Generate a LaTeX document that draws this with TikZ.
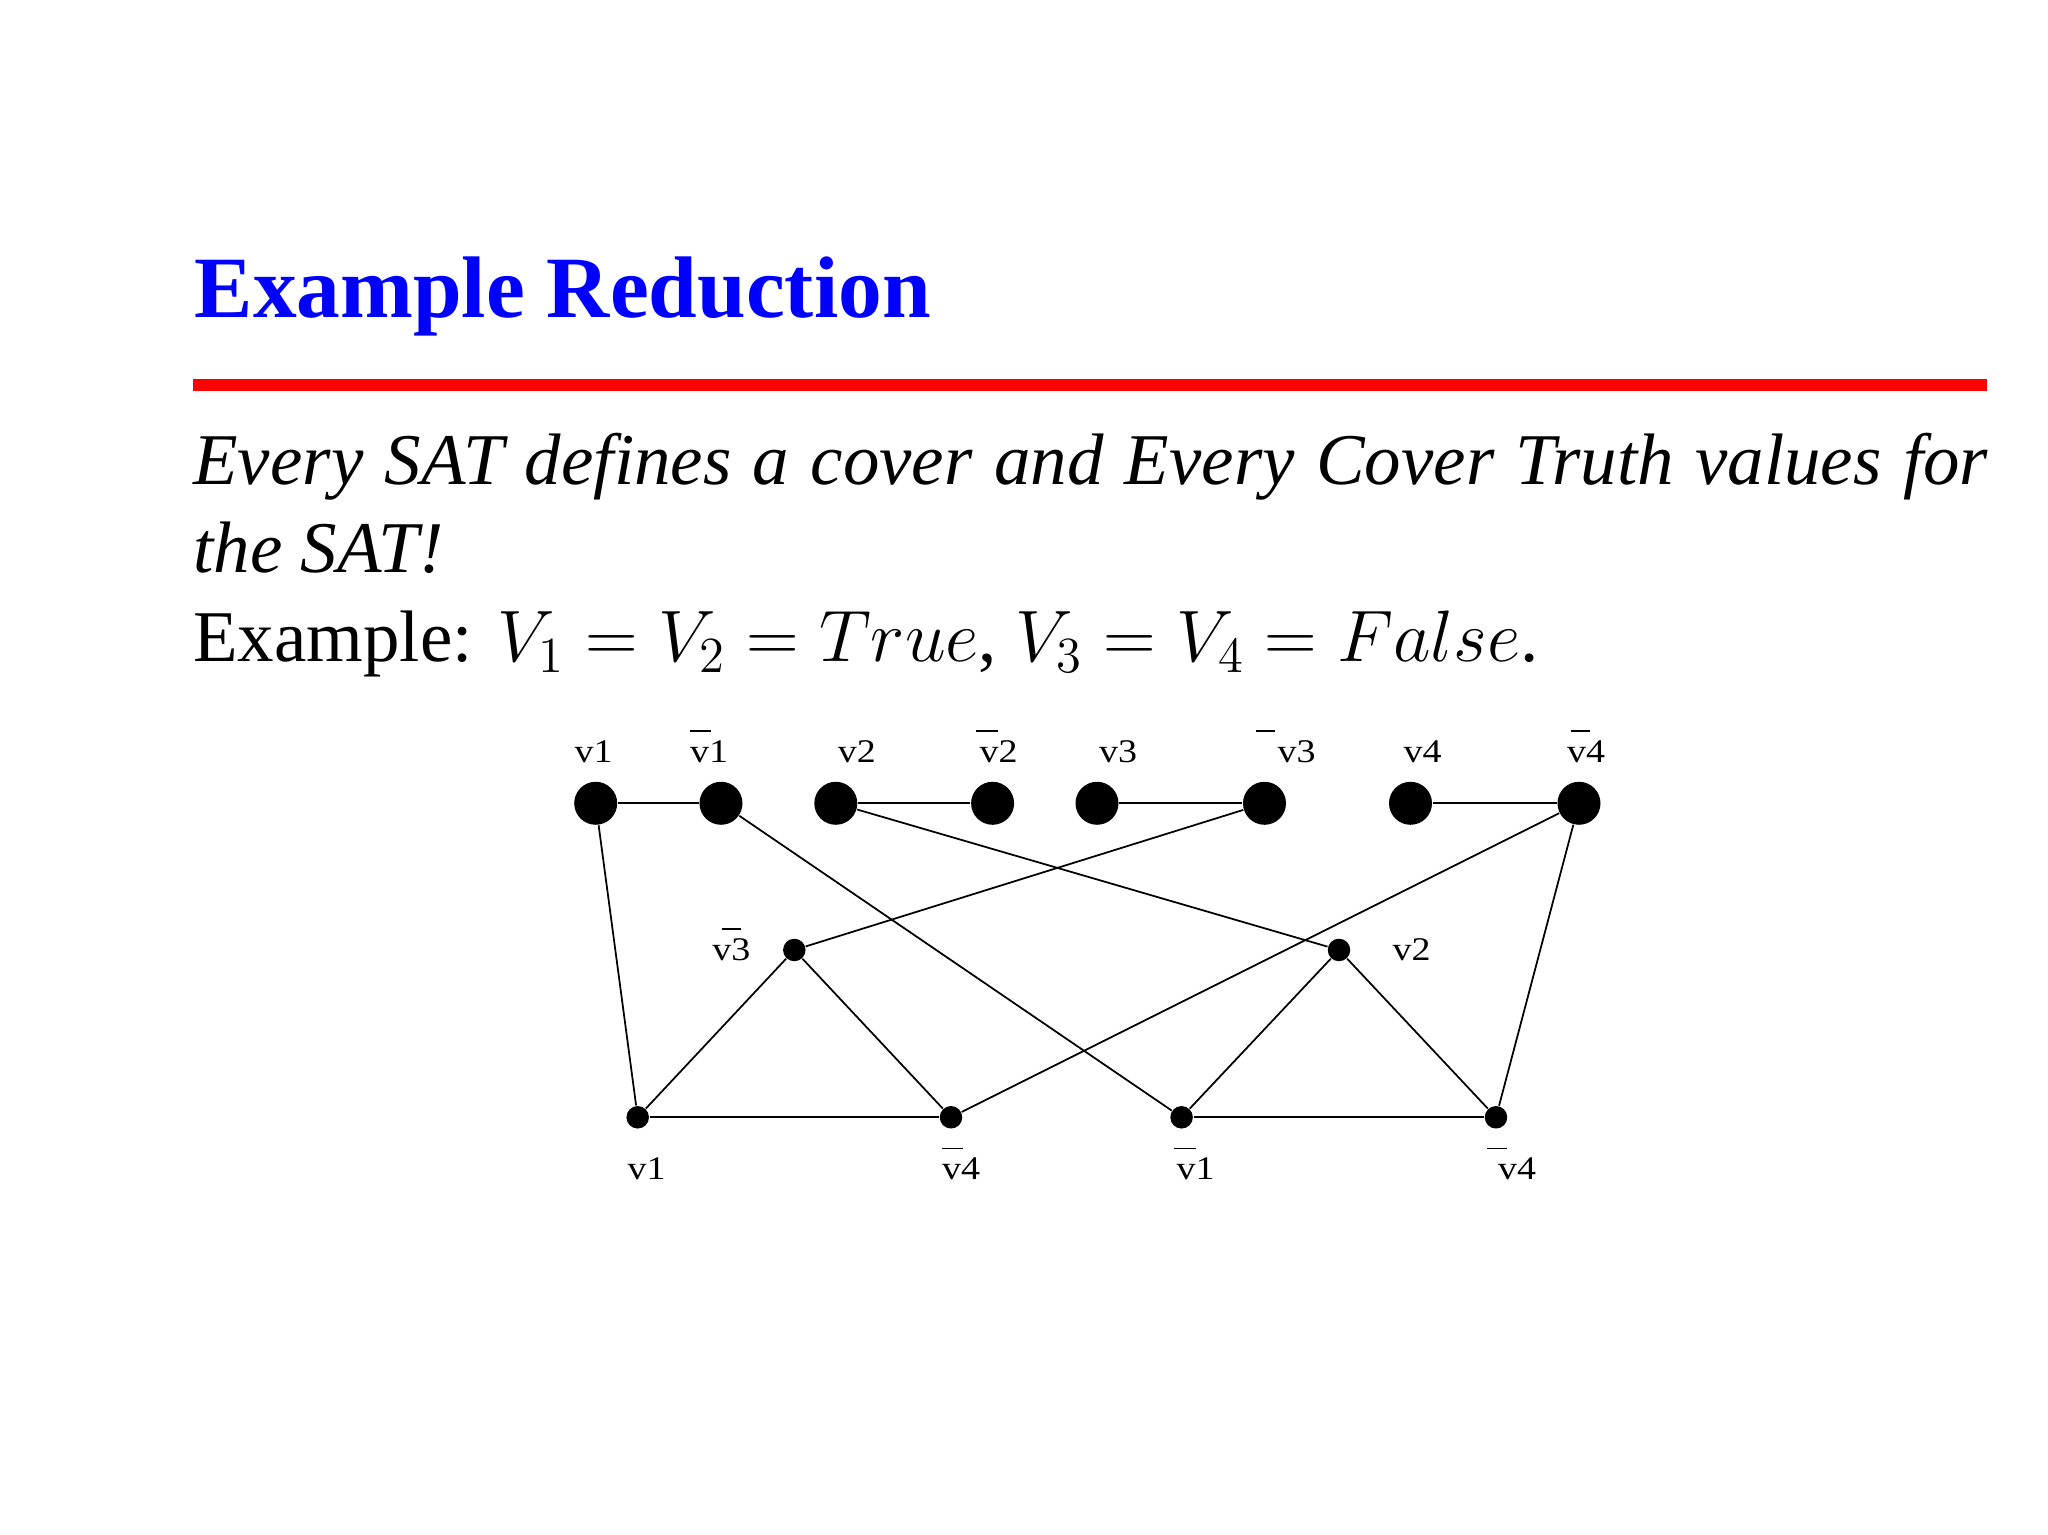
\documentclass[tikz,border=0pt]{standalone}
\usepackage[no-math]{fontspec}
\setmainfont{Liberation Serif}
\usepackage{xcolor}
\usepackage{amsmath}
\usepackage{graphicx}
\usepackage{tikz}
\usetikzlibrary{positioning}
\tikzstyle{lit} = [circle, fill=black, minimum size=0.43cm, inner sep=0pt]
\tikzstyle{cl} = [circle, fill=black, minimum size=0.225cm, inner sep=0pt]
\tikzstyle{lab} = [anchor=base, inner sep=0pt, font=\fontsize{9.4}{11}\selectfont]
\tikzstyle{txt} = [anchor=base west, inner sep=0pt, font=\fontsize{20.74}{25}\selectfont]
\tikzstyle{edge} = [line width=0.5pt]
\newcommand{\lb}[1]{\scalebox{1.15}[1]{#1}}
\newcommand{\negbar}[2]{\makebox[0pt][l]{\kern#1\rule[0.305cm]{#2}{0.5pt}}}

\begin{document}
\begin{tikzpicture}[node distance=1cm]
        \useasboundingbox (0,0) rectangle (20.48,15.35);
        \node (title) [anchor=base west, inner sep=0pt, text=blue, font=\fontsize{24.88}{30}\selectfont\bfseries] at (1.94,12.173) {Example Reduction};
        \fill [red] (1.927,11.435) rectangle (19.873,11.555);
        \node (line1) [txt] at (1.927,10.50) {\makebox[17.946cm][s]{\itshape Every SAT defines a cover and Every Cover Truth values for}};
        \node (line2) [txt] at (1.927,9.623) {\itshape the SAT!};
        \node (line3) [txt] at (1.927,8.733) {Example: $V_1 = V_2 = True$, $V_3 = V_4 = False$.};

        \node (v1) [lit] at (5.957,7.317) {};
        \node (nv1) [lit, right of=v1, node distance=1.253cm] {};
        \node (v2) [lit, right of=nv1, node distance=1.148cm] {};
        \node (nv2) [lit, right of=v2, node distance=1.568cm] {};
        \node (v3) [lit, right of=nv2, node distance=1.044cm] {};
        \node (nv3) [lit, right of=v3, node distance=1.675cm] {};
        \node (v4) [lit, right of=nv3, node distance=1.46cm] {};
        \node (nv4) [lit, right of=v4, node distance=1.685cm] {};

        \node (t1) [cl] at (7.943,5.85) {};
        \node (t2) [cl, right of=t1, node distance=5.447cm] {};
        \node (l1) [cl] at (6.377,4.177) {};
        \node (r1) [cl, right of=l1, node distance=3.133cm] {};
        \node (l2) [cl, right of=r1, node distance=2.306cm] {};
        \node (r2) [cl, right of=l2, node distance=3.144cm] {};

        \node (lv1) [above of=v1, lab, node distance=0.406cm, xshift=-0.02cm] {\lb{v1}};
        \node (lnv1) [above of=nv1, lab, node distance=0.406cm, xshift=-0.12cm] {\negbar{0cm}{0.21cm}\lb{v1}};
        \node (lv2) [above of=v2, lab, node distance=0.406cm, xshift=0.21cm] {\lb{v2}};
        \node (lnv2) [above of=nv2, lab, node distance=0.406cm, xshift=0.06cm] {\negbar{-0.036cm}{0.215cm}\lb{v2}};
        \node (lv3) [above of=v3, lab, node distance=0.406cm, xshift=0.21cm] {\lb{v3}};
        \node (lnv3) [above of=nv3, lab, node distance=0.406cm, xshift=0.32cm] {\negbar{-0.214cm}{0.19cm}\lb{v3}};
        \node (lv4) [above of=v4, lab, node distance=0.406cm, xshift=0.12cm] {\lb{v4}};
        \node (lnv4) [above of=nv4, lab, node distance=0.406cm, xshift=0.07cm] {\negbar{0.04cm}{0.19cm}\lb{v4}};
        \node (lt1) [left of=t1, lab, node distance=0.63cm, yshift=-0.107cm] {\negbar{0.10cm}{0.19cm}\lb{v3}};
        \node (lt2) [right of=t2, lab, node distance=0.727cm, yshift=-0.11cm] {\lb{v2}};
        \node (ll1) [below of=l1, lab, node distance=0.627cm, xshift=0.09cm] {\lb{v1}};
        \node (lr1) [below of=r1, lab, node distance=0.627cm, xshift=0.10cm] {\negbar{0cm}{0.214cm}\lb{v4}};
        \node (ll2) [below of=l2, lab, node distance=0.627cm, xshift=0.14cm] {\negbar{-0.03cm}{0.22cm}\lb{v1}};
        \node (lr2) [below of=r2, lab, node distance=0.627cm, xshift=0.21cm] {\negbar{-0.11cm}{0.2cm}\lb{v4}};

        \draw [edge] (v1) -- (nv1);
        \draw [edge] (v2) -- (nv2);
        \draw [edge] (v3) -- (nv3);
        \draw [edge] (v4) -- (nv4);
        \draw [edge] (v1) -- (l1);
        \draw [edge] (nv1) -- (l2);
        \draw [edge] (v2) -- (t2);
        \draw [edge] (nv3) -- (t1);
        \draw [edge] (nv4) -- (r1);
        \draw [edge] (nv4) -- (r2);
        \draw [edge] (t1) -- (l1);
        \draw [edge] (t1) -- (r1);
        \draw [edge] (l1) -- (r1);
        \draw [edge] (t2) -- (l2);
        \draw [edge] (t2) -- (r2);
        \draw [edge] (l2) -- (r2);
    \end{tikzpicture}
\end{document}
